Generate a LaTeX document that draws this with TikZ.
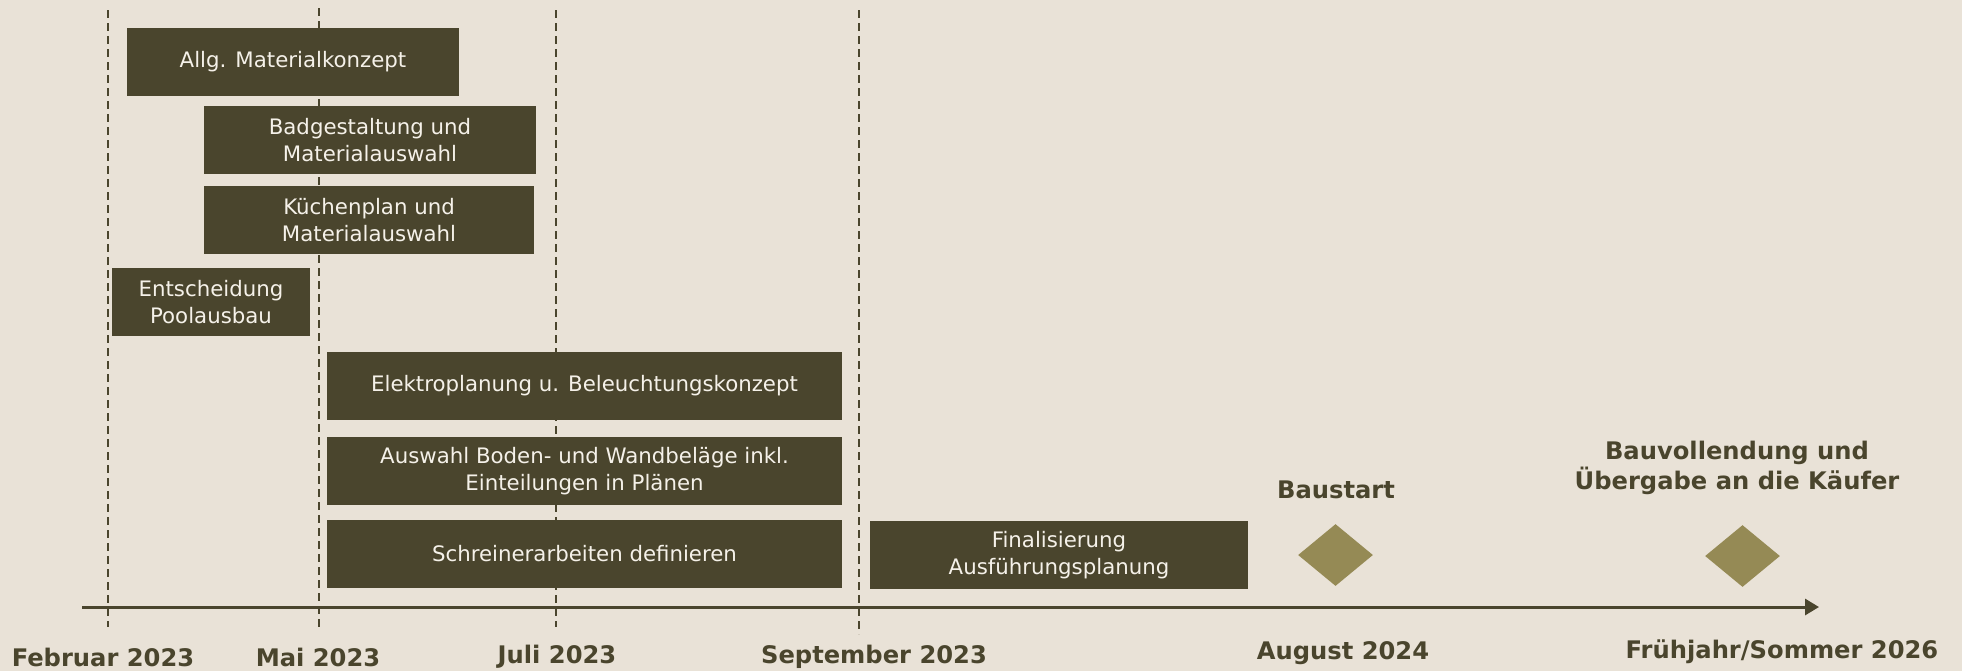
\documentclass[tikz,border=0pt]{standalone}
\usepackage{fontspec}
\setmainfont{DejaVu Sans}
\usetikzlibrary{shapes.geometric,arrows.meta}
\definecolor{bg}{RGB}{233,226,215}
\definecolor{boxc}{RGB}{74,69,45}
\definecolor{boxtxt}{RGB}{245,241,233}
\definecolor{dia}{RGB}{149,138,85}
\tikzset{
  px/.style={x=0.5pt,y=-0.5pt},
  taskbox/.style={fill=boxc, draw=none, text=boxtxt, inner sep=0pt, align=center,
    font=\fontsize{10.65pt}{13.3pt}\selectfont, minimum height=34pt},
  datelbl/.style={text=boxc, inner sep=0pt, align=center,
    font=\fontsize{12.1pt}{15pt}\selectfont\bfseries},
  guide/.style={draw=boxc, line width=1pt, dash pattern=on 4pt off 2.5pt},
  milestone/.style={diamond, fill=dia, draw=none, inner sep=0pt,
    minimum width=37.5pt, minimum height=31pt},
  axisline/.style={draw=boxc, line width=1.5pt, -{Triangle[length=7pt,width=8pt]}}
}
\begin{document}
\begin{tikzpicture}[px]
\fill[bg] (0,0) rectangle (1962,671);
\useasboundingbox (0,0) rectangle (1962,671);
% guide coordinates
\coordinate (fT) at (108,10);  \coordinate (fB) at (108,627);
\coordinate (mT) at (318.5,8); \coordinate (mB) at (318.5,627);
\coordinate (jT) at (556,10);  \coordinate (jB) at (556,627);
\coordinate (sT) at (859,10);  \coordinate (sB) at (859,634);
\draw[guide] (fT) -- (fB);
\draw[guide] (mT) -- (mB);
\draw[guide] (jT) -- (jB);
\draw[guide] (sT) -- (sB);
% axis
\coordinate (ax0) at (82,607);
\coordinate (ax1) at (1819,607);
\draw[axisline] (ax0) -- (ax1);
% tasks
\node[taskbox, minimum width=166pt] (b1) at (293,62) {Allg. Materialkonzept};
\node[taskbox, minimum width=166pt] (b2) at (370,140) {Badgestaltung und\\Materialauswahl};
\node[taskbox, minimum width=165pt] (b3) at (369,220) {Küchenplan und\\Materialauswahl};
\node[taskbox, minimum width=99pt] (b4) at (211,302) {Entscheidung\\Poolausbau};
\node[taskbox, minimum width=257.5pt] (b5) at (584.5,386) {Elektroplanung u. Beleuchtungskonzept};
\node[taskbox, minimum width=257.5pt] (b6) at (584.5,471) {Auswahl Boden- und Wandbeläge inkl.\\Einteilungen in Plänen};
\node[taskbox, minimum width=257.5pt] (b7) at (584.5,554) {Schreinerarbeiten definieren};
\node[taskbox, minimum width=189pt] (b8) at (1059,555) {Finalisierung\\Ausführungsplanung};
% milestones
\node[milestone] (m1) at (1335.5,555) {};
\node[milestone] (m2) at (1742.5,556) {};
\node[datelbl] (t1) at (1336,490) {Baustart};
\node[datelbl] (t2) at (1737,468) {Bauvollendung und\\Übergabe an die Käufer};
% dates
\node[datelbl] (d1) at (103,657) {Februar 2023};
\node[datelbl] (d2) at (318,657) {Mai 2023};
\node[datelbl] (d3) at (557,657) {Juli 2023};
\node[datelbl] (d4) at (874,657) {September 2023};
\node[datelbl] (d5) at (1343,653) {August 2024};
\node[datelbl] (d6) at (1782,652) {Frühjahr/Sommer 2026};
\end{tikzpicture}
\end{document}
